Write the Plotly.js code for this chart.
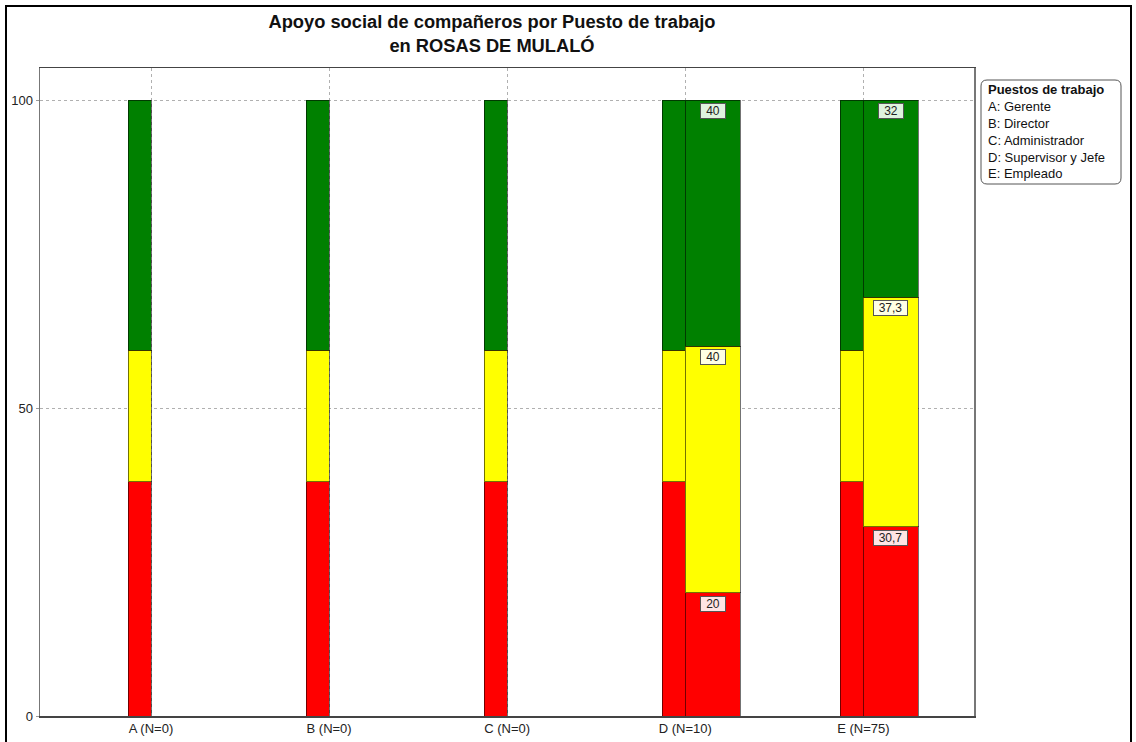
<!DOCTYPE html>
<html>
<head>
<meta charset="utf-8">
<script src="https://cdn.plot.ly/plotly-3.0.1.min.js"></script>
<style>html,body{margin:0;padding:0;background:#fff;}#chart{width:1136px;height:742px;}</style>
</head>
<body>
<div id="chart"></div>
<script>
// ---- data ----
const categories = ['A (N=0)', 'B (N=0)', 'C (N=0)', 'D (N=10)', 'E (N=75)'];
// reference (population) bars for every category
const refRed = [38, 38, 38, 38, 38];
const refYellow = [21.4, 21.4, 21.4, 21.4, 21.4];
const refGreen = [40.6, 40.6, 40.6, 40.6, 40.6];
// observed bars (only categories with N>0)
const dataIndex = [3, 4];
const dataRed = [20, 30.7];
const dataYellow = [40, 37.3];
const dataGreen = [40, 32];
const legendTitle = 'Puestos de trabajo';
const legendItems = ['A: Gerente', 'B: Director', 'C: Administrador', 'D: Supervisor y Jefe', 'E: Empleado'];

// ---- layout geometry ----
const W = 1136, H = 742;
const L = 40, R = 974, T = 68, B = 716;
const pw = R - L, ph = B - T;
const unit = 178.1;
const x0 = -(151 - L) / unit;
const x1 = x0 + pw / unit;
const narrowW = 23 / unit, narrowOff = -11.5 / unit;
const wideW = 55 / unit, wideOff = 27.5 / unit;
const yMax = (B - T) / 6.16;

const RED = '#ff0000', YEL = '#ffff00', GRN = '#008000';
const lineStyle = {color: 'rgba(0,0,0,0.55)', width: 1};
const FONT = 'Liberation Sans, Arial, sans-serif';

const refX = categories.map((c, i) => i + narrowOff);
const datX = dataIndex.map(i => i + wideOff);

function bar(x, y, color, w) {
  return {type: 'bar', x: x, y: y, width: w, marker: {color: color, line: lineStyle},
          hoverinfo: 'skip', showlegend: false};
}
const traces = [
  bar(refX, refRed, RED, narrowW),
  bar(refX, refYellow, YEL, narrowW),
  bar(refX, refGreen, GRN, narrowW),
  bar(datX, dataRed, RED, wideW),
  bar(datX, dataYellow, YEL, wideW),
  bar(datX, dataGreen, GRN, wideW)
];

const fmt = v => String(v).replace('.', ',');
const px = v => (v - L) / pw;
const py = v => (B - v) / ph;
const annotations = [];
const segs = [[dataRed, '#ffe4e4'], [dataYellow, '#ffffe4'], [dataGreen, '#dff3df']];
datX.forEach((x, k) => {
  let cum = 0;
  segs.forEach(([arr, bg]) => {
    cum += arr[k];
    const t = fmt(arr[k]);
    annotations.push({x: x, y: cum, xref: 'x', yref: 'y', text: t, showarrow: false,
      yanchor: 'top', yshift: -3, bgcolor: bg, bordercolor: '#555', borderwidth: 1, borderpad: 1,
      width: 4.5 * t.length + 13, height: 12,
      font: {family: FONT, size: 12, color: '#222'}});
  });
});
// legend box text
annotations.push({xref: 'paper', yref: 'paper', x: px(986), y: py(89), xanchor: 'left', yanchor: 'middle',
  text: '<b>' + legendTitle + '</b>', showarrow: false,
  font: {family: FONT, size: 13, color: '#111'}});
legendItems.forEach((t, i) => {
  annotations.push({xref: 'paper', yref: 'paper', x: px(986), y: py(106 + 17 * i), xanchor: 'left', yanchor: 'middle',
    text: t, showarrow: false, font: {family: FONT, size: 13, color: '#111'}});
});

// rounded rectangle for legend
function rrect(ax, ay, bx, by, r) {
  const X = v => px(v), Y = v => py(v);
  return `M ${X(ax + r)} ${Y(ay)} L ${X(bx - r)} ${Y(ay)} Q ${X(bx)} ${Y(ay)} ${X(bx)} ${Y(ay + r)} ` +
    `L ${X(bx)} ${Y(by - r)} Q ${X(bx)} ${Y(by)} ${X(bx - r)} ${Y(by)} L ${X(ax + r)} ${Y(by)} ` +
    `Q ${X(ax)} ${Y(by)} ${X(ax)} ${Y(by - r)} L ${X(ax)} ${Y(ay + r)} Q ${X(ax)} ${Y(ay)} ${X(ax + r)} ${Y(ay)} Z`;
}
const shapes = [
  {type: 'path', xref: 'paper', yref: 'paper', path: rrect(981, 80, 1121, 184, 6),
   line: {color: '#555', width: 1}, fillcolor: 'rgba(0,0,0,0)'},
  {type: 'rect', xref: 'paper', yref: 'paper', x0: px(6), x1: px(1131), y0: py(760), y1: py(6),
   line: {color: '#000', width: 2}, fillcolor: 'rgba(0,0,0,0)'}
];

const layout = {
  width: W, height: H,
  margin: {l: L, r: W - R, t: T, b: H - B, pad: 0},
  paper_bgcolor: '#fff', plot_bgcolor: '#fff',
  barmode: 'stack', bargap: 0,
  showlegend: false,
  font: {family: FONT, size: 13, color: '#222'},
  title: {text: '<b>Apoyo social de compañeros por Puesto de trabajo<br>en ROSAS DE MULALÓ</b>',
    x: px(492), xanchor: 'center', xref: 'paper', y: 1 - 28 / H, yanchor: 'middle',
    font: {family: FONT, size: 18.3, color: '#111'}},
  xaxis: {range: [x0, x1], tickvals: categories.map((c, i) => i), ticktext: categories,
    showgrid: true, gridcolor: '#b0b0b0', griddash: 'dot', gridwidth: 1,
    showline: true, linecolor: '#444', linewidth: 1.5, mirror: true, zeroline: false,
    ticks: '', tickfont: {size: 13, color: '#222'}, fixedrange: true},
  yaxis: {range: [0, yMax], tickvals: [0, 50, 100], ticktext: ['0', '50', '100'],
    showgrid: true, gridcolor: '#b0b0b0', griddash: 'dot', gridwidth: 1,
    showline: true, linecolor: '#777', linewidth: 1.5, mirror: true, zeroline: false,
    ticks: 'outside', ticklen: 3, tickcolor: '#999', tickfont: {size: 13, color: '#222'}, fixedrange: true},
  annotations: annotations,
  shapes: shapes
};

Plotly.newPlot('chart', traces, layout, {displayModeBar: false, staticPlot: true});
</script>
</body>
</html>
